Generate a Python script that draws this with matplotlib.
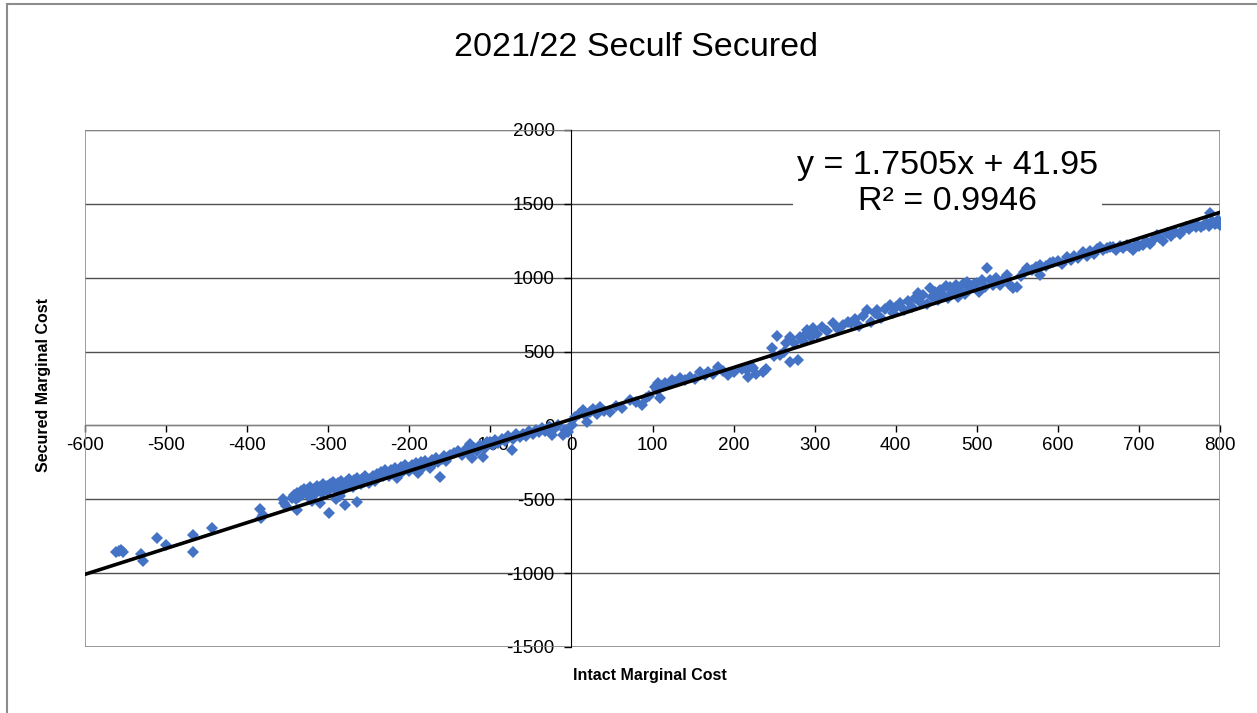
import matplotlib
matplotlib.use('Agg')
import matplotlib.pyplot as plt
from matplotlib.patches import Rectangle

plt.rcParams['font.family'] = ['Liberation Sans', 'DejaVu Sans']

# intact vs secured marginal cost (grouped by x range)
intact_left = [-562, -558, -555, -553, -531, -529, -511, -500, -467, -467, -443,
               -384, -383, -380, -356, -355, -352]
secured_left = [-860, -850, -845, -855, -870, -915, -760, -810, -745, -855, -695,
                -565, -630, -605, -500, -525, -548]

intact_cluster = [-345, -342, -340, -338, -336, -334, -332, -330, -328, -326, -324,
                  -322, -320, -318, -316, -314, -312, -310, -308, -306, -304, -302,
                  -300, -298, -296, -294, -292, -290, -288, -286, -284, -282, -280,
                  -278, -276, -274, -272, -270, -268, -266, -264, -262, -260, -258,
                  -256, -254, -252, -250,
                  -339, -310, -299, -290, -279, -264, -320, -285]
secured_cluster = [-490, -470, -500, -455, -485, -445, -470, -430, -460, -440, -475,
                   -420, -450, -430, -465, -410, -440, -420, -455, -400, -430, -410,
                   -445, -395, -420, -380, -410, -440, -390, -415, -375, -400, -430,
                   -380, -405, -365, -390, -420, -370, -395, -355, -380, -400, -360,
                   -385, -345, -370, -390,
                   -570, -525, -590, -500, -540, -519, -510, -480]

intact_mid = [-248, -245, -242, -240, -237, -235, -232, -230, -227, -225, -222, -220,
              -217, -215, -212, -210, -207, -205, -202, -200, -197, -195, -192, -190,
              -187, -185, -182, -180, -177, -175, -172, -170, -167, -165, -162, -160,
              -157, -155, -152, -150, -189, -215]
secured_mid = [-360, -340, -375, -330, -350, -315, -340, -300, -325, -345, -300, -320,
               -290, -310, -330, -280, -300, -265, -285, -310, -270, -290, -255, -275,
               -300, -250, -270, -240, -260, -285, -235, -255, -220, -245, -349, -230,
               -210, -240, -215, -200, -320, -355]

intact_zero = [-145, -140, -135, -130, -127, -125, -123, -120, -117, -113, -109, -107,
               -104, -100, -97, -94, -90, -86, -82, -78, -73, -72, -68, -64, -60, -56,
               -52, -48, -44, -40, -36, -32, -28, -26, -24, -20, -16, -10, -8, -4,
               1, 5, 9, 14, 17, 19, 23, 27, 31, 35, 40, 48, 55, 62, 72, 80, 87, 92, 96]
secured_zero = [-190, -170, -200, -160, -185, -125, -221, -150, -175, -130, -214, -150,
                -115, -112, -135, -100, -120, -90, -105, -75, -167, -90, -60, -80, -55,
                -70, -40, -55, -30, -45, -20, -35, -10, -11, -65, -20, 0, -65, -30, -45,
                3, 60, 80, 104, 70, 23, 90, 110, 75, 125, 100, 90, 130, 118, 172, 160,
                138, 185, 200]

intact_pos = [103, 105, 107, 109, 112, 116, 120, 124, 128, 134, 140, 146, 152, 159,
              165, 168, 175, 181, 187, 193, 200, 210, 217, 218, 222, 224, 228, 236,
              240, 247, 250, 253, 257, 262, 265, 270, 270, 275, 280, 282, 285, 288,
              291, 295, 298, 303, 309, 315, 323, 329, 335, 341]
secured_pos = [260, 240, 287, 185, 270, 290, 280, 307, 295, 321, 305, 328, 315, 362,
               340, 362, 350, 395, 370, 341, 360, 385, 375, 328, 400, 389, 350, 362,
               380, 524, 470, 605, 477, 500, 560, 598, 429, 560, 443, 598, 570, 610,
               646, 600, 660, 620, 666, 640, 693, 650, 680, 700]

intact_high = [345, 350, 355, 360, 365, 370, 375, 377, 382, 387, 393, 397, 400, 405,
               410, 415, 420, 424, 427, 430, 434, 438, 442, 445, 448, 452, 455, 458,
               462, 465, 467, 470, 474, 477, 479, 483, 486, 488, 492, 496, 500, 503,
               507, 510, 513, 516, 520, 524, 529, 533, 537, 541, 545, 550, 555, 558,
               562, 568, 573, 578, 578, 585, 590, 594]
secured_high = [690, 720, 670, 740, 781, 700, 760, 781, 730, 790, 815, 760, 800, 829,
                780, 840, 800, 860, 896, 835, 880, 820, 930, 870, 900, 850, 917, 880,
                945, 860, 937, 900, 950, 870, 903, 960, 890, 971, 930, 955, 964, 900,
                985, 940, 1066, 984, 950, 1000, 951, 990, 1018, 951, 930, 937, 1010,
                1040, 1066, 1050, 1070, 1086, 1018, 1080, 1100, 1106]

intact_top = [600, 605, 611, 616, 620, 625, 631, 636, 640, 645, 648, 652, 656, 660,
              664, 668, 672, 676, 680, 685, 689, 693, 697, 700, 705, 709, 713, 718,
              722, 726, 730, 735, 740, 745, 750, 754, 758, 762, 766, 770, 772, 776,
              780, 784, 786, 788, 790, 791, 794, 796, 798, 800]
secured_top = [1110, 1095, 1140, 1120, 1150, 1130, 1174, 1150, 1180, 1160, 1195, 1208,
               1185, 1200, 1210, 1208, 1185, 1215, 1200, 1221, 1205, 1188, 1230, 1215,
               1221, 1250, 1230, 1265, 1289, 1270, 1250, 1303, 1280, 1310, 1295, 1323,
               1345, 1330, 1350, 1340, 1357, 1345, 1360, 1370, 1350, 1438, 1380, 1377,
               1365, 1370, 1390, 1360]

intact = (intact_left + intact_cluster + intact_mid + intact_zero + intact_pos
          + intact_high + intact_top)
secured = (secured_left + secured_cluster + secured_mid + secured_zero + secured_pos
           + secured_high + secured_top)

slope = 1.7505
intercept = 41.95
r_squared = 0.9946

x_range = (-600, 800)
y_range = (-1500, 2000)
x_ticks = list(range(-600, 801, 100))
y_ticks = list(range(-1500, 2001, 500))

fig = plt.figure(figsize=(12.57, 7.13), dpi=100)
ax = fig.add_axes([0.0676, 0.0926, 0.9030, 0.7251])

# outer chart border (only left/top visible in the reference)
fig.patches.append(Rectangle((0.0056, -0.1), 1.2, 1.0944, transform=fig.transFigure,
                             fill=False, edgecolor='#8c8c8c', linewidth=1.5))

ax.plot(intact, secured, linestyle='none', marker='D', markersize=6,
        color='#4472C4', markeredgewidth=0, zorder=4)

ax.plot(x_range, [slope * x + intercept for x in x_range], color='black',
        linewidth=2.6, zorder=5)

ax.set_xlim(*x_range)
ax.set_ylim(*y_range)
ax.set_xticks(x_ticks)
ax.set_yticks(y_ticks)
ax.set_xticklabels([str(t) for t in x_ticks])
ax.set_yticklabels([str(t) for t in y_ticks])

for name in ['top', 'right']:
    ax.spines[name].set_visible(False)
ax.spines['left'].set_position(('data', 0))
ax.spines['bottom'].set_position(('data', 0))
ax.spines['left'].set_color('black')
ax.spines['bottom'].set_color('#808080')
ax.add_patch(Rectangle((0, 0), 1, 1, transform=ax.transAxes, fill=False,
                       edgecolor='#8c8c8c', linewidth=1.2, zorder=1))

ax.grid(axis='y', color='#505050', linewidth=1.0)
ax.tick_params(axis='both', labelsize=13.5, direction='out', length=5, width=1,
               colors='black')
ax.tick_params(axis='y', pad=7)
ax.tick_params(axis='x', pad=3)
ax.set_axisbelow(True)

ax.text(0.760, 0.897, f'y = {slope}x + {intercept}\nR\u00b2 = {r_squared}',
        transform=ax.transAxes, ha='center', va='center', fontsize=24.5,
        linespacing=1.2, zorder=6,
        bbox=dict(facecolor='white', edgecolor='none', pad=3))

fig.text(0.506, 0.933, '2021/22 Seculf Secured', ha='center', va='center',
         fontsize=24.5)
fig.text(0.517, 0.052, 'Intact Marginal Cost', ha='center', va='center',
         fontsize=11.5, fontweight='bold')
fig.text(0.035, 0.46, 'Secured Marginal Cost', ha='center', va='center',
         rotation=90, fontsize=11.5, fontweight='bold')

plt.savefig('out.png', dpi=100)
plt.close()
